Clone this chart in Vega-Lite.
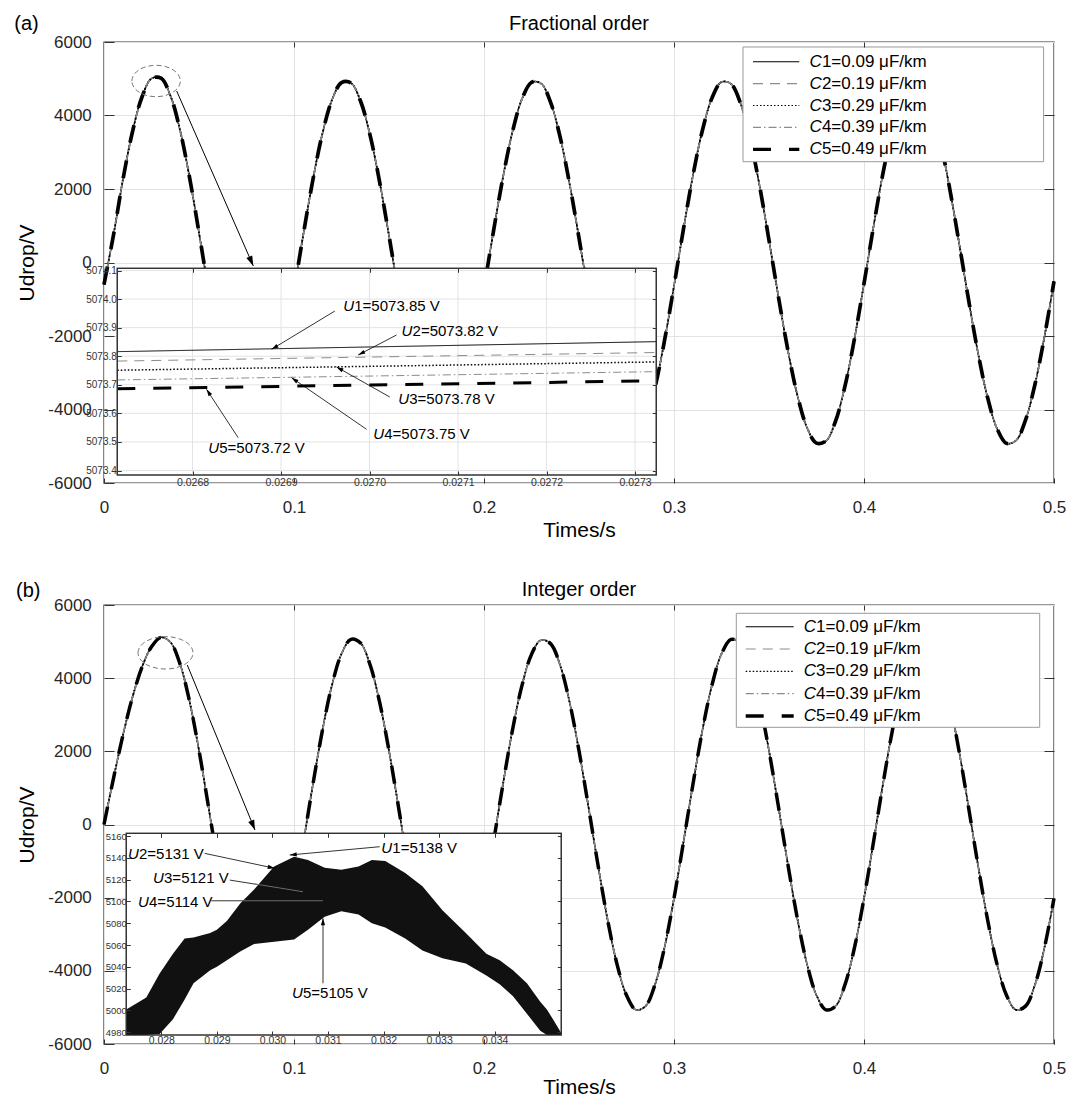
{
"$schema": "https://vega.github.io/schema/vega-lite/v6.json",
"padding": {"left": 13, "top": 13, "right": 5, "bottom": 0},
"config": {
 "font": "Liberation Sans",
 "view": {"stroke": "#333", "strokeWidth": 1.4},
 "axis": {"labelColor": "#262626", "tickColor": "#333", "titleColor": "#000", "titleFontWeight": "normal", "domain": false}
},
"datasets": {
 "waveA": [{"t":0,"v":-600},{"t":0.005,"v":748},{"t":0.01,"v":2265},{"t":0.015,"v":3559},{"t":0.02,"v":4504},{"t":0.025,"v":5006},{"t":0.03,"v":5016},{"t":0.035,"v":4533},{"t":0.04,"v":3605},{"t":0.045,"v":2321},{"t":0.05,"v":811},{"t":0.055,"v":-760},{"t":0.06,"v":-2238},{"t":0.065,"v":-3494},{"t":0.07,"v":-4408},{"t":0.075,"v":-4889},{"t":0.08,"v":-4889},{"t":0.085,"v":-4408},{"t":0.09,"v":-3494},{"t":0.095,"v":-2237},{"t":0.1,"v":-760},{"t":0.105,"v":792},{"t":0.11,"v":2266},{"t":0.115,"v":3516},{"t":0.12,"v":4422},{"t":0.125,"v":4894},{"t":0.13,"v":4884},{"t":0.135,"v":4394},{"t":0.14,"v":3472},{"t":0.145,"v":2209},{"t":0.15,"v":730},{"t":0.155,"v":-822},{"t":0.16,"v":-2293},{"t":0.165,"v":-3538},{"t":0.17,"v":-4437},{"t":0.175,"v":-4898},{"t":0.18,"v":-4879},{"t":0.185,"v":-4380},{"t":0.19,"v":-3450},{"t":0.195,"v":-2181},{"t":0.2,"v":-699},{"t":0.205,"v":853},{"t":0.21,"v":2321},{"t":0.215,"v":3560},{"t":0.22,"v":4450},{"t":0.225,"v":4902},{"t":0.23,"v":4873},{"t":0.235,"v":4365},{"t":0.24,"v":3428},{"t":0.245,"v":2154},{"t":0.25,"v":668},{"t":0.255,"v":-884},{"t":0.26,"v":-2349},{"t":0.265,"v":-3582},{"t":0.27,"v":-4464},{"t":0.275,"v":-4907},{"t":0.28,"v":-4868},{"t":0.285,"v":-4350},{"t":0.29,"v":-3406},{"t":0.295,"v":-2126},{"t":0.3,"v":-638},{"t":0.305,"v":914},{"t":0.31,"v":2376},{"t":0.315,"v":3604},{"t":0.32,"v":4477},{"t":0.325,"v":4911},{"t":0.33,"v":4862},{"t":0.335,"v":4335},{"t":0.34,"v":3384},{"t":0.345,"v":2097},{"t":0.35,"v":607},{"t":0.355,"v":-944},{"t":0.36,"v":-2403},{"t":0.365,"v":-3625},{"t":0.37,"v":-4490},{"t":0.375,"v":-4914},{"t":0.38,"v":-4856},{"t":0.385,"v":-4320},{"t":0.39,"v":-3361},{"t":0.395,"v":-2069},{"t":0.4,"v":-576},{"t":0.405,"v":975},{"t":0.41,"v":2430},{"t":0.415,"v":3645},{"t":0.42,"v":4503},{"t":0.425,"v":4918},{"t":0.43,"v":4850},{"t":0.435,"v":4305},{"t":0.44,"v":3338},{"t":0.445,"v":2041},{"t":0.45,"v":545},{"t":0.455,"v":-1005},{"t":0.46,"v":-2457},{"t":0.465,"v":-3667},{"t":0.47,"v":-4516},{"t":0.475,"v":-4922},{"t":0.48,"v":-4844},{"t":0.485,"v":-4289},{"t":0.49,"v":-3312},{"t":0.495,"v":-2012},{"t":0.5,"v":-514}],
 "waveB": [{"t":0,"v":0},{"t":0.005,"v":1262},{"t":0.01,"v":2447},{"t":0.015,"v":3482},{"t":0.02,"v":4302},{"t":0.025,"v":4858},{"t":0.03,"v":5116},{"t":0.035,"v":4980},{"t":0.04,"v":4390},{"t":0.045,"v":3373},{"t":0.05,"v":2025},{"t":0.055,"v":480},{"t":0.06,"v":-1110},{"t":0.065,"v":-2586},{"t":0.07,"v":-3811},{"t":0.075,"v":-4662},{"t":0.08,"v":-5058},{"t":0.085,"v":-4958},{"t":0.09,"v":-4372},{"t":0.095,"v":-3359},{"t":0.1,"v":-2017},{"t":0.105,"v":-478},{"t":0.11,"v":1108},{"t":0.115,"v":2586},{"t":0.12,"v":3812},{"t":0.125,"v":4665},{"t":0.13,"v":5062},{"t":0.135,"v":4960},{"t":0.14,"v":4372},{"t":0.145,"v":3359},{"t":0.15,"v":2017},{"t":0.155,"v":478},{"t":0.16,"v":-1108},{"t":0.165,"v":-2586},{"t":0.17,"v":-3810},{"t":0.175,"v":-4662},{"t":0.18,"v":-5058},{"t":0.185,"v":-4958},{"t":0.19,"v":-4372},{"t":0.195,"v":-3359},{"t":0.2,"v":-2017},{"t":0.205,"v":-478},{"t":0.21,"v":1106},{"t":0.215,"v":2582},{"t":0.22,"v":3802},{"t":0.225,"v":4650},{"t":0.23,"v":5040},{"t":0.235,"v":4945},{"t":0.24,"v":4365},{"t":0.245,"v":3355},{"t":0.25,"v":2015},{"t":0.255,"v":478},{"t":0.26,"v":-1108},{"t":0.265,"v":-2590},{"t":0.27,"v":-3815},{"t":0.275,"v":-4668},{"t":0.28,"v":-5066},{"t":0.285,"v":-4965},{"t":0.29,"v":-4376},{"t":0.295,"v":-3362},{"t":0.3,"v":-2018},{"t":0.305,"v":-478},{"t":0.31,"v":1108},{"t":0.315,"v":2588},{"t":0.32,"v":3812},{"t":0.325,"v":4664},{"t":0.33,"v":5060},{"t":0.335,"v":4960},{"t":0.34,"v":4373},{"t":0.345,"v":3360},{"t":0.35,"v":2017},{"t":0.355,"v":478},{"t":0.36,"v":-1109},{"t":0.365,"v":-2590},{"t":0.37,"v":-3815},{"t":0.375,"v":-4668},{"t":0.38,"v":-5066},{"t":0.385,"v":-4965},{"t":0.39,"v":-4376},{"t":0.395,"v":-3362},{"t":0.4,"v":-2018},{"t":0.405,"v":-478},{"t":0.41,"v":1108},{"t":0.415,"v":2588},{"t":0.42,"v":3812},{"t":0.425,"v":4664},{"t":0.43,"v":5060},{"t":0.435,"v":4960},{"t":0.44,"v":4373},{"t":0.445,"v":3360},{"t":0.45,"v":2017},{"t":0.455,"v":478},{"t":0.46,"v":-1109},{"t":0.465,"v":-2590},{"t":0.47,"v":-3815},{"t":0.475,"v":-4668},{"t":0.48,"v":-5066},{"t":0.485,"v":-4965},{"t":0.49,"v":-4376},{"t":0.495,"v":-3362},{"t":0.5,"v":-2018}],
 "legendRows": [{"s": "C1=0.09 μF/km", "rest": "1=0.09 μF/km"}, {"s": "C2=0.19 μF/km", "rest": "2=0.19 μF/km"}, {"s": "C3=0.29 μF/km", "rest": "3=0.29 μF/km"}, {"s": "C4=0.39 μF/km", "rest": "4=0.39 μF/km"}, {"s": "C5=0.49 μF/km", "rest": "5=0.49 μF/km"}]
},
"spacing": 37,
"resolve": {"scale": {"color": "independent", "strokeDash": "independent"}},
"vconcat": [
{
 "width": 950, "height": 441,
 "resolve": {"scale": {"x": "independent", "y": "independent"}},
 "layer": [
  {"layer": [
   {"data": {"name": "waveA"}, "mark": {"type": "line", "interpolate": "catmull-rom", "strokeWidth": 1.5},
    "encoding": {
     "x": {"field": "t", "type": "quantitative", "scale": {"domain": [0, 0.5], "nice": false, "zero": false},
       "axis": {"orient": "bottom", "title": "Times/s", "values": [0, 0.1, 0.2, 0.3, 0.4, 0.5], "labelExpr": "'' + datum.value", "grid": true, "gridColor": "#e3e3e3", "tickSize": -5, "labelPadding": 21.5, "labelFontSize": 17, "labelFlush": false, "titleFontSize": 21, "titlePadding": 4}},
     "y": {"field": "v", "type": "quantitative", "scale": {"domain": [-6000, 6000], "nice": false, "zero": false},
       "axis": {"orient": "left", "title": "Udrop/V", "values": [-6000, -4000, -2000, 0, 2000, 4000, 6000], "labelExpr": "'' + datum.value", "grid": true, "gridColor": "#e3e3e3", "tickSize": -10, "labelPadding": 22.7, "labelFontSize": 17, "labelFlush": false, "titleFontSize": 21, "titlePadding": 10}},
     "color": {"datum": "C1=0.09 μF/km", "type": "nominal", "legend": null,
       "scale": {"domain": ["C1=0.09 μF/km", "C2=0.19 μF/km", "C3=0.29 μF/km", "C4=0.39 μF/km", "C5=0.49 μF/km"], "range": ["#000000", "#8c8c8c", "#000000", "#8c8c8c", "#000000"]}},
     "strokeDash": {"datum": "C1=0.09 μF/km", "type": "nominal", "legend": null,
       "scale": {"domain": ["C1=0.09 μF/km", "C2=0.19 μF/km", "C3=0.29 μF/km", "C4=0.39 μF/km", "C5=0.49 μF/km"], "range": [[1, 0], [10, 7], [1.5, 2], [8, 3, 1.5, 3], [18, 18]]}}
    }},
   {"data": {"name": "waveA"}, "mark": {"type": "line", "interpolate": "catmull-rom", "strokeWidth": 1.3},
    "encoding": {"x": {"field": "t", "type": "quantitative", "scale": {"domain": [0, 0.5], "nice": false, "zero": false}}, "y": {"field": "v", "type": "quantitative", "scale": {"domain": [-6000, 6000], "nice": false, "zero": false}},
     "color": {"datum": "C2=0.19 μF/km", "type": "nominal"}, "strokeDash": {"datum": "C2=0.19 μF/km", "type": "nominal"}}},
   {"data": {"name": "waveA"}, "mark": {"type": "line", "interpolate": "catmull-rom", "strokeWidth": 1.8},
    "encoding": {"x": {"field": "t", "type": "quantitative", "scale": {"domain": [0, 0.5], "nice": false, "zero": false}}, "y": {"field": "v", "type": "quantitative", "scale": {"domain": [-6000, 6000], "nice": false, "zero": false}},
     "color": {"datum": "C3=0.29 μF/km", "type": "nominal"}, "strokeDash": {"datum": "C3=0.29 μF/km", "type": "nominal"}}},
   {"data": {"name": "waveA"}, "mark": {"type": "line", "interpolate": "catmull-rom", "strokeWidth": 1.3},
    "encoding": {"x": {"field": "t", "type": "quantitative", "scale": {"domain": [0, 0.5], "nice": false, "zero": false}}, "y": {"field": "v", "type": "quantitative", "scale": {"domain": [-6000, 6000], "nice": false, "zero": false}},
     "color": {"datum": "C4=0.39 μF/km", "type": "nominal"}, "strokeDash": {"datum": "C4=0.39 μF/km", "type": "nominal"}}},
   {"data": {"name": "waveA"}, "mark": {"type": "line", "interpolate": "catmull-rom", "strokeWidth": 3.7},
    "encoding": {"x": {"field": "t", "type": "quantitative", "scale": {"domain": [0, 0.5], "nice": false, "zero": false}}, "y": {"field": "v", "type": "quantitative", "scale": {"domain": [-6000, 6000], "nice": false, "zero": false}},
     "color": {"datum": "C5=0.49 μF/km", "type": "nominal"}, "strokeDash": {"datum": "C5=0.49 μF/km", "type": "nominal"}}},
   {"data": {"values": [{}]},
    "mark": {"type": "rect", "fill": "#fff", "stroke": "#9a9a9a", "strokeWidth": 1},
    "encoding": {"x": {"datum": 0.33632, "type": "quantitative", "scale": {"domain": [0, 0.5], "nice": false, "zero": false}}, "x2": {"datum": 0.49453},
     "y": {"datum": 5864, "type": "quantitative", "scale": {"domain": [-6000, 6000], "nice": false, "zero": false}}, "y2": {"datum": 2743}}},
   {"data": {"values": [{"t": 0.02742, "v": 4939}]},
    "mark": {"type": "point", "shape": "M-1,0C-1,-0.358,-0.552,-0.649,0,-0.649C0.552,-0.649,1,-0.358,1,0C1,0.358,0.552,0.649,0,0.649C-0.552,0.649,-1,0.358,-1,0Z", "size": 2343, "filled": false, "color": "#777", "strokeWidth": 1, "strokeDash": [5, 3], "opacity": 1},
    "encoding": {"x": {"field": "t", "type": "quantitative", "scale": {"domain": [0, 0.5], "nice": false, "zero": false}}, "y": {"field": "v", "type": "quantitative", "scale": {"domain": [-6000, 6000], "nice": false, "zero": false}}}},
   {"data": {"values": [{"t": 0.03826, "v": 4667, "t2": 0.07858, "v2": -95}]},
    "mark": {"type": "rule", "color": "#000", "strokeWidth": 1},
    "encoding": {"x": {"field": "t", "type": "quantitative", "scale": {"domain": [0, 0.5], "nice": false, "zero": false}}, "y": {"field": "v", "type": "quantitative", "scale": {"domain": [-6000, 6000], "nice": false, "zero": false}}, "x2": {"field": "t2"}, "y2": {"field": "v2"}}},
   {"data": {"values": [{"t": 0.07858, "v": -95, "ang": 156.4}]},
    "mark": {"type": "point", "shape": "M0,0L-0.32,1L0.32,1Z", "size": 400, "filled": true, "color": "#000", "opacity": 1},
    "encoding": {"x": {"field": "t", "type": "quantitative", "scale": {"domain": [0, 0.5], "nice": false, "zero": false}}, "y": {"field": "v", "type": "quantitative", "scale": {"domain": [-6000, 6000], "nice": false, "zero": false}}, "angle": {"field": "ang", "type": "quantitative", "scale": null}}},
   {"data": {"values": [{"t": -0.0472, "v": 6490, "label": "(a)"}]},
    "mark": {"type": "text", "align": "left", "baseline": "middle", "fontSize": 20, "color": "#000"},
    "encoding": {"x": {"field": "t", "type": "quantitative", "scale": {"domain": [0, 0.5], "nice": false, "zero": false}}, "y": {"field": "v", "type": "quantitative", "scale": {"domain": [-6000, 6000], "nice": false, "zero": false}}, "text": {"field": "label"}}},
   {"data": {"values": [{"t": 0.25, "v": 6490, "label": "Fractional order"}]},
    "mark": {"type": "text", "align": "center", "baseline": "middle", "fontSize": 20, "color": "#000"},
    "encoding": {"x": {"field": "t", "type": "quantitative", "scale": {"domain": [0, 0.5], "nice": false, "zero": false}}, "y": {"field": "v", "type": "quantitative", "scale": {"domain": [-6000, 6000], "nice": false, "zero": false}}, "text": {"field": "label"}}}
  ]},
  {"layer": [
   {"data": {"values": [{}]},
    "mark": {"type": "rect", "fill": "#fff", "stroke": "#333", "strokeWidth": 1.2},
    "encoding": {
     "x": {"datum": 0.026715, "type": "quantitative", "scale": {"domain": [0.026715, 0.027324], "range": [13.3, 552.3], "nice": false, "zero": false},
       "axis": {"orient": "bottom", "offset": -8, "title": null, "values": [0.0268, 0.0269, 0.027, 0.0271, 0.0272, 0.0273], "format": ".4f", "grid": false, "domain": false, "tickSize": -4, "labelPadding": 6.5, "labelFontSize": 10.5, "labelColor": "#333", "labelFlush": false, "labelOverlap": false, "zindex": 2}},
     "x2": {"datum": 0.027324},
     "y": {"datum": 5073.3843, "type": "quantitative", "scale": {"domain": [5073.3843, 5074.1077], "range": [433, 226.3], "nice": false, "zero": false},
       "axis": {"orient": "left", "offset": -13.3, "title": null, "values": [5073.4, 5073.5, 5073.6, 5073.7, 5073.8, 5073.9, 5074, 5074.1], "format": ".1f", "grid": false, "domain": false, "tickSize": -4, "labelPadding": 5, "labelFontSize": 10, "labelColor": "#333", "labelFlush": false, "labelOverlap": false, "zindex": 2}},
     "y2": {"datum": 5074.1077}}},
   {"data": {"values": [{"g": 0.0268}, {"g": 0.0269}, {"g": 0.027}, {"g": 0.0271}, {"g": 0.0272}, {"g": 0.0273}]},
    "mark": {"type": "rule", "color": "#e3e3e3", "strokeWidth": 1},
    "encoding": {"x": {"field": "g", "type": "quantitative", "scale": {"domain": [0.026715, 0.027324], "range": [13.3, 552.3], "nice": false, "zero": false}},
     "y": {"datum": 5073.3843, "type": "quantitative", "scale": {"domain": [5073.3843, 5074.1077], "range": [433, 226.3], "nice": false, "zero": false}}, "y2": {"datum": 5074.1077}}},
   {"data": {"values": [{"g": 5073.4}, {"g": 5073.5}, {"g": 5073.6}, {"g": 5073.7}, {"g": 5073.8}, {"g": 5073.9}, {"g": 5074.0}, {"g": 5074.1}]},
    "mark": {"type": "rule", "color": "#e3e3e3", "strokeWidth": 1},
    "encoding": {"y": {"field": "g", "type": "quantitative", "scale": {"domain": [5073.3843, 5074.1077], "range": [433, 226.3], "nice": false, "zero": false}},
     "x": {"datum": 0.026715, "type": "quantitative", "scale": {"domain": [0.026715, 0.027324], "range": [13.3, 552.3], "nice": false, "zero": false}}, "x2": {"datum": 0.027324}}},
   {"data": {"values": [{"t": 0.026715, "v": 5073.816}, {"t": 0.027324, "v": 5073.851}]},
    "mark": {"type": "line", "strokeWidth": 1},
    "encoding": {"x": {"field": "t", "type": "quantitative", "scale": {"domain": [0.026715, 0.027324], "range": [13.3, 552.3], "nice": false, "zero": false}}, "y": {"field": "v", "type": "quantitative", "scale": {"domain": [5073.3843, 5074.1077], "range": [433, 226.3], "nice": false, "zero": false}},
     "color": {"datum": "C1=0.09 μF/km", "type": "nominal"}, "strokeDash": {"datum": "C1=0.09 μF/km", "type": "nominal"}}},
   {"data": {"values": [{"t": 0.026715, "v": 5073.783}, {"t": 0.027324, "v": 5073.813}]},
    "mark": {"type": "line", "strokeWidth": 1},
    "encoding": {"x": {"field": "t", "type": "quantitative", "scale": {"domain": [0.026715, 0.027324], "range": [13.3, 552.3], "nice": false, "zero": false}}, "y": {"field": "v", "type": "quantitative", "scale": {"domain": [5073.3843, 5074.1077], "range": [433, 226.3], "nice": false, "zero": false}},
     "color": {"datum": "C2=0.19 μF/km", "type": "nominal"}, "strokeDash": {"datum": "C2=0.19 μF/km", "type": "nominal"}}},
   {"data": {"values": [{"t": 0.026715, "v": 5073.751}, {"t": 0.027324, "v": 5073.780}]},
    "mark": {"type": "line", "strokeWidth": 1.5},
    "encoding": {"x": {"field": "t", "type": "quantitative", "scale": {"domain": [0.026715, 0.027324], "range": [13.3, 552.3], "nice": false, "zero": false}}, "y": {"field": "v", "type": "quantitative", "scale": {"domain": [5073.3843, 5074.1077], "range": [433, 226.3], "nice": false, "zero": false}},
     "color": {"datum": "C3=0.29 μF/km", "type": "nominal"}, "strokeDash": {"datum": "C3=0.29 μF/km", "type": "nominal"}}},
   {"data": {"values": [{"t": 0.026715, "v": 5073.717}, {"t": 0.027324, "v": 5073.746}]},
    "mark": {"type": "line", "strokeWidth": 1},
    "encoding": {"x": {"field": "t", "type": "quantitative", "scale": {"domain": [0.026715, 0.027324], "range": [13.3, 552.3], "nice": false, "zero": false}}, "y": {"field": "v", "type": "quantitative", "scale": {"domain": [5073.3843, 5074.1077], "range": [433, 226.3], "nice": false, "zero": false}},
     "color": {"datum": "C4=0.39 μF/km", "type": "nominal"}, "strokeDash": {"datum": "C4=0.39 μF/km", "type": "nominal"}}},
   {"data": {"values": [{"t": 0.026715, "v": 5073.686}, {"t": 0.027324, "v": 5073.714}]},
    "mark": {"type": "line", "strokeWidth": 3},
    "encoding": {"x": {"field": "t", "type": "quantitative", "scale": {"domain": [0.026715, 0.027324], "range": [13.3, 552.3], "nice": false, "zero": false}}, "y": {"field": "v", "type": "quantitative", "scale": {"domain": [5073.3843, 5074.1077], "range": [433, 226.3], "nice": false, "zero": false}},
     "color": {"datum": "C5=0.49 μF/km", "type": "nominal"}, "strokeDash": {"datum": "C5=0.49 μF/km", "type": "nominal"}}},
   {"data": {"values": [
     {"t": 0.0269608, "v": 5073.9582, "t2": 0.0268893, "v2": 5073.8242},
     {"t": 0.0270305, "v": 5073.8743, "t2": 0.0269872, "v2": 5073.8043},
     {"t": 0.0270229, "v": 5073.6573, "t2": 0.0269627, "v2": 5073.7623},
     {"t": 0.0269966, "v": 5073.5442, "t2": 0.0269119, "v2": 5073.7248},
     {"t": 0.0268516, "v": 5073.5148, "t2": 0.0268158, "v2": 5073.6842}]},
    "mark": {"type": "rule", "color": "#000", "strokeWidth": 0.8},
    "encoding": {"x": {"field": "t", "type": "quantitative", "scale": {"domain": [0.026715, 0.027324], "range": [13.3, 552.3], "nice": false, "zero": false}}, "y": {"field": "v", "type": "quantitative", "scale": {"domain": [5073.3843, 5074.1077], "range": [433, 226.3], "nice": false, "zero": false}}, "x2": {"field": "t2"}, "y2": {"field": "v2"}}},
   {"data": {"values": [
     {"t": 0.0268893, "v": 5073.8242, "ang": 238.8},
     {"t": 0.0269872, "v": 5073.8043, "ang": 242.4},
     {"t": 0.0269627, "v": 5073.7623, "ang": 299.4},
     {"t": 0.0269119, "v": 5073.7248, "ang": 304.5},
     {"t": 0.0268158, "v": 5073.6842, "ang": 326.8}]},
    "mark": {"type": "point", "shape": "M0,0L-0.3,1L0.3,1Z", "size": 196, "filled": true, "color": "#000", "opacity": 1},
    "encoding": {"x": {"field": "t", "type": "quantitative", "scale": {"domain": [0.026715, 0.027324], "range": [13.3, 552.3], "nice": false, "zero": false}}, "y": {"field": "v", "type": "quantitative", "scale": {"domain": [5073.3843, 5074.1077], "range": [433, 226.3], "nice": false, "zero": false}}, "angle": {"field": "ang", "type": "quantitative", "scale": null}}},
   {"data": {"values": [
     {"t": 0.0269703, "v": 5073.9758, "rest": "1=5073.85 V"},
     {"t": 0.0270362, "v": 5073.8882, "rest": "2=5073.82 V"},
     {"t": 0.0270324, "v": 5073.6492, "rest": "3=5073.78 V"},
     {"t": 0.0270042, "v": 5073.5288, "rest": "4=5073.75 V"},
     {"t": 0.0268177, "v": 5073.4798, "rest": "5=5073.72 V"}]},
    "layer": [
     {"mark": {"type": "text", "text": "U", "fontStyle": "italic", "align": "left", "baseline": "middle", "fontSize": 15, "color": "#000"},
      "encoding": {"x": {"field": "t", "type": "quantitative", "scale": {"domain": [0.026715, 0.027324], "range": [13.3, 552.3], "nice": false, "zero": false}}, "y": {"field": "v", "type": "quantitative", "scale": {"domain": [5073.3843, 5074.1077], "range": [433, 226.3], "nice": false, "zero": false}}}},
     {"mark": {"type": "text", "align": "left", "baseline": "middle", "fontSize": 15, "dx": 11, "color": "#000"},
      "encoding": {"x": {"field": "t", "type": "quantitative", "scale": {"domain": [0.026715, 0.027324], "range": [13.3, 552.3], "nice": false, "zero": false}}, "y": {"field": "v", "type": "quantitative", "scale": {"domain": [5073.3843, 5074.1077], "range": [433, 226.3], "nice": false, "zero": false}}, "text": {"field": "rest"}}}
    ]},
   {"data": {"values": [{}]},
    "mark": {"type": "rect", "filled": false, "color": "#333", "strokeWidth": 1.2},
    "encoding": {"x": {"datum": 0.026715, "type": "quantitative", "scale": {"domain": [0.026715, 0.027324], "range": [13.3, 552.3], "nice": false, "zero": false}}, "x2": {"datum": 0.027324},
     "y": {"datum": 5073.3843, "type": "quantitative", "scale": {"domain": [5073.3843, 5074.1077], "range": [433, 226.3], "nice": false, "zero": false}}, "y2": {"datum": 5074.1077}}}
  ]},
  {"data": {"name": "legendRows"},
   "layer": [
    {"transform": [{"filter": "datum.s !== 'C5=0.49 μF/km'"}],
     "mark": {"type": "rule", "strokeWidth": 1.1},
     "encoding": {"x": {"datum": 0.34158, "type": "quantitative", "scale": {"domain": [0, 0.5], "nice": false, "zero": false},
        "axis": {"orient": "top", "values": [0.1, 0.2, 0.3, 0.4], "labels": false, "grid": false, "domain": false, "tickSize": -5, "title": null, "zindex": 1}},
      "x2": {"datum": 0.36595},
      "y": {"field": "s", "type": "nominal", "scale": {"type": "point", "domain": ["C1=0.09 μF/km", "C2=0.19 μF/km", "C3=0.29 μF/km", "C4=0.39 μF/km", "C5=0.49 μF/km"], "range": [19.7, 107.3], "padding": 0}, "axis": null},
      "color": {"field": "s", "type": "nominal"}, "strokeDash": {"field": "s", "type": "nominal"}}},
    {"transform": [{"filter": "datum.s === 'C5=0.49 μF/km'"}],
     "mark": {"type": "rule", "strokeWidth": 3.3},
     "encoding": {"x": {"datum": 0.34158, "type": "quantitative", "scale": {"domain": [0, 0.5], "nice": false, "zero": false}}, "x2": {"datum": 0.36595},
      "y": {"field": "s", "type": "nominal", "scale": {"type": "point", "domain": ["C1=0.09 μF/km", "C2=0.19 μF/km", "C3=0.29 μF/km", "C4=0.39 μF/km", "C5=0.49 μF/km"], "range": [19.7, 107.3], "padding": 0}},
      "color": {"field": "s", "type": "nominal"}, "strokeDash": {"field": "s", "type": "nominal"}}},
    {"mark": {"type": "text", "text": "C", "fontStyle": "italic", "align": "left", "baseline": "middle", "fontSize": 17, "color": "#000"},
     "encoding": {"x": {"datum": 0.37137, "type": "quantitative", "scale": {"domain": [0, 0.5], "nice": false, "zero": false}},
      "y": {"field": "s", "type": "nominal", "scale": {"type": "point", "domain": ["C1=0.09 μF/km", "C2=0.19 μF/km", "C3=0.29 μF/km", "C4=0.39 μF/km", "C5=0.49 μF/km"], "range": [19.7, 107.3], "padding": 0}}}},
    {"mark": {"type": "text", "align": "left", "baseline": "middle", "fontSize": 17, "dx": 12.3, "color": "#000"},
     "encoding": {"x": {"datum": 0.37137, "type": "quantitative", "scale": {"domain": [0, 0.5], "nice": false, "zero": false}},
      "y": {"field": "s", "type": "nominal", "scale": {"type": "point", "domain": ["C1=0.09 μF/km", "C2=0.19 μF/km", "C3=0.29 μF/km", "C4=0.39 μF/km", "C5=0.49 μF/km"], "range": [19.7, 107.3], "padding": 0}},
      "text": {"field": "rest"}}}
   ]},
  {"data": {"values": [{}]},
   "mark": {"type": "point", "opacity": 0, "size": 1},
   "encoding": {
    "x": {"datum": 0.0268, "type": "quantitative", "scale": {"domain": [0.026715, 0.027324], "range": [13.3, 552.3], "nice": false, "zero": false},
      "axis": {"orient": "top", "offset": -226.3, "values": [0.0268, 0.0269, 0.027, 0.0271, 0.0272, 0.0273], "labels": false, "grid": false, "domain": false, "tickSize": -4, "title": null, "zindex": 2}},
    "y": {"datum": 5073.4, "type": "quantitative", "scale": {"domain": [5073.3843, 5074.1077], "range": [433, 226.3], "nice": false, "zero": false},
      "axis": {"orient": "right", "offset": -397.7, "values": [5073.4, 5073.5, 5073.6, 5073.7, 5073.8, 5073.9, 5074, 5074.1], "labels": false, "grid": false, "domain": false, "tickSize": -4, "title": null, "zindex": 2}}}},
  {"data": {"values": [{}]},
   "mark": {"type": "point", "opacity": 0, "size": 1},
   "encoding": {
    "x": {"datum": 0.5, "type": "quantitative", "scale": {"domain": [0.4, 0.5], "range": [850, 950], "nice": false, "zero": false}, "axis": null},
    "y": {"datum": 0, "type": "quantitative", "scale": {"domain": [-6000, 6000], "nice": false, "zero": false},
      "axis": {"orient": "right", "values": [-4000, -2000, 0, 2000, 4000], "labels": false, "grid": false, "domain": false, "tickSize": -10, "title": null, "zindex": 1}}}}
 ]
},
{
 "width": 950, "height": 439,
 "resolve": {"scale": {"x": "independent", "y": "independent"}},
 "layer": [
  {"layer": [
   {"data": {"name": "waveB"}, "mark": {"type": "line", "interpolate": "catmull-rom", "strokeWidth": 1.5},
    "encoding": {
     "x": {"field": "t", "type": "quantitative", "scale": {"domain": [0, 0.5], "nice": false, "zero": false},
       "axis": {"orient": "bottom", "title": "Times/s", "values": [0, 0.1, 0.2, 0.3, 0.4, 0.5], "labelExpr": "'' + datum.value", "grid": true, "gridColor": "#e3e3e3", "tickSize": -5, "labelPadding": 21.5, "labelFontSize": 17, "labelFlush": false, "titleFontSize": 21, "titlePadding": 0}},
     "y": {"field": "v", "type": "quantitative", "scale": {"domain": [-6000, 6000], "nice": false, "zero": false},
       "axis": {"orient": "left", "title": "Udrop/V", "values": [-6000, -4000, -2000, 0, 2000, 4000, 6000], "labelExpr": "'' + datum.value", "grid": true, "gridColor": "#e3e3e3", "tickSize": -10, "labelPadding": 22.7, "labelFontSize": 17, "labelFlush": false, "titleFontSize": 21, "titlePadding": 10}},
     "color": {"datum": "C1=0.09 μF/km", "type": "nominal", "legend": null,
       "scale": {"domain": ["C1=0.09 μF/km", "C2=0.19 μF/km", "C3=0.29 μF/km", "C4=0.39 μF/km", "C5=0.49 μF/km"], "range": ["#000000", "#8c8c8c", "#000000", "#8c8c8c", "#000000"]}},
     "strokeDash": {"datum": "C1=0.09 μF/km", "type": "nominal", "legend": null,
       "scale": {"domain": ["C1=0.09 μF/km", "C2=0.19 μF/km", "C3=0.29 μF/km", "C4=0.39 μF/km", "C5=0.49 μF/km"], "range": [[1, 0], [10, 7], [1.5, 2], [8, 3, 1.5, 3], [18, 18]]}}
    }},
   {"data": {"name": "waveB"}, "mark": {"type": "line", "interpolate": "catmull-rom", "strokeWidth": 1.3},
    "encoding": {"x": {"field": "t", "type": "quantitative", "scale": {"domain": [0, 0.5], "nice": false, "zero": false}}, "y": {"field": "v", "type": "quantitative", "scale": {"domain": [-6000, 6000], "nice": false, "zero": false}},
     "color": {"datum": "C2=0.19 μF/km", "type": "nominal"}, "strokeDash": {"datum": "C2=0.19 μF/km", "type": "nominal"}}},
   {"data": {"name": "waveB"}, "mark": {"type": "line", "interpolate": "catmull-rom", "strokeWidth": 1.8},
    "encoding": {"x": {"field": "t", "type": "quantitative", "scale": {"domain": [0, 0.5], "nice": false, "zero": false}}, "y": {"field": "v", "type": "quantitative", "scale": {"domain": [-6000, 6000], "nice": false, "zero": false}},
     "color": {"datum": "C3=0.29 μF/km", "type": "nominal"}, "strokeDash": {"datum": "C3=0.29 μF/km", "type": "nominal"}}},
   {"data": {"name": "waveB"}, "mark": {"type": "line", "interpolate": "catmull-rom", "strokeWidth": 1.3},
    "encoding": {"x": {"field": "t", "type": "quantitative", "scale": {"domain": [0, 0.5], "nice": false, "zero": false}}, "y": {"field": "v", "type": "quantitative", "scale": {"domain": [-6000, 6000], "nice": false, "zero": false}},
     "color": {"datum": "C4=0.39 μF/km", "type": "nominal"}, "strokeDash": {"datum": "C4=0.39 μF/km", "type": "nominal"}}},
   {"data": {"name": "waveB"}, "mark": {"type": "line", "interpolate": "catmull-rom", "strokeWidth": 3.5},
    "encoding": {"x": {"field": "t", "type": "quantitative", "scale": {"domain": [0, 0.5], "nice": false, "zero": false}}, "y": {"field": "v", "type": "quantitative", "scale": {"domain": [-6000, 6000], "nice": false, "zero": false}},
     "color": {"datum": "C5=0.49 μF/km", "type": "nominal"}, "strokeDash": {"datum": "C5=0.49 μF/km", "type": "nominal"}}},
   {"data": {"values": [{}]},
    "mark": {"type": "rect", "fill": "#fff", "stroke": "#9a9a9a", "strokeWidth": 1},
    "encoding": {"x": {"datum": 0.33279, "type": "quantitative", "scale": {"domain": [0, 0.5], "nice": false, "zero": false}}, "x2": {"datum": 0.49247},
     "y": {"datum": 5773, "type": "quantitative", "scale": {"domain": [-6000, 6000], "nice": false, "zero": false}}, "y2": {"datum": 2657}}},
   {"data": {"values": [{"t": 0.03237, "v": 4693}]},
    "mark": {"type": "point", "shape": "M-1,0C-1,-0.326,-0.552,-0.59,0,-0.59C0.552,-0.59,1,-0.326,1,0C1,0.326,0.552,0.59,0,0.59C-0.552,0.59,-1,0.326,-1,0Z", "size": 3025, "filled": false, "color": "#777", "strokeWidth": 1, "strokeDash": [5, 3], "opacity": 1},
    "encoding": {"x": {"field": "t", "type": "quantitative", "scale": {"domain": [0, 0.5], "nice": false, "zero": false}}, "y": {"field": "v", "type": "quantitative", "scale": {"domain": [-6000, 6000], "nice": false, "zero": false}}}},
   {"data": {"values": [{"t": 0.04384, "v": 4360, "t2": 0.07947, "v2": -151}]},
    "mark": {"type": "rule", "color": "#000", "strokeWidth": 1},
    "encoding": {"x": {"field": "t", "type": "quantitative", "scale": {"domain": [0, 0.5], "nice": false, "zero": false}}, "y": {"field": "v", "type": "quantitative", "scale": {"domain": [-6000, 6000], "nice": false, "zero": false}}, "x2": {"field": "t2"}, "y2": {"field": "v2"}}},
   {"data": {"values": [{"t": 0.07947, "v": -151, "ang": 157.7}]},
    "mark": {"type": "point", "shape": "M0,0L-0.32,1L0.32,1Z", "size": 400, "filled": true, "color": "#000", "opacity": 1},
    "encoding": {"x": {"field": "t", "type": "quantitative", "scale": {"domain": [0, 0.5], "nice": false, "zero": false}}, "y": {"field": "v", "type": "quantitative", "scale": {"domain": [-6000, 6000], "nice": false, "zero": false}}, "angle": {"field": "ang", "type": "quantitative", "scale": null}}},
   {"data": {"values": [{"t": -0.0463, "v": 6383, "label": "(b)"}]},
    "mark": {"type": "text", "align": "left", "baseline": "middle", "fontSize": 20, "color": "#000"},
    "encoding": {"x": {"field": "t", "type": "quantitative", "scale": {"domain": [0, 0.5], "nice": false, "zero": false}}, "y": {"field": "v", "type": "quantitative", "scale": {"domain": [-6000, 6000], "nice": false, "zero": false}}, "text": {"field": "label"}}},
   {"data": {"values": [{"t": 0.25, "v": 6410, "label": "Integer order"}]},
    "mark": {"type": "text", "align": "center", "baseline": "middle", "fontSize": 20, "color": "#000"},
    "encoding": {"x": {"field": "t", "type": "quantitative", "scale": {"domain": [0, 0.5], "nice": false, "zero": false}}, "y": {"field": "v", "type": "quantitative", "scale": {"domain": [-6000, 6000], "nice": false, "zero": false}}, "text": {"field": "label"}}}
  ]},
  {"layer": [
   {"data": {"values": [{}]},
    "mark": {"type": "rect", "fill": "#fff", "stroke": "#333", "strokeWidth": 1.2},
    "encoding": {
     "x": {"datum": 0.02737, "type": "quantitative", "scale": {"domain": [0.02737, 0.035199], "range": [22.3, 457.3], "nice": false, "zero": false},
       "axis": {"orient": "bottom", "offset": -9, "title": null, "values": [0.028, 0.029, 0.03, 0.031, 0.032, 0.033, 0.034], "format": ".3f", "grid": false, "domain": false, "tickSize": -4, "labelPadding": 4.5, "labelFontSize": 10.5, "labelColor": "#333", "labelFlush": false, "labelOverlap": false, "zindex": 2}},
     "x2": {"datum": 0.035199},
     "y": {"datum": 4977.5, "type": "quantitative", "scale": {"domain": [4977.5, 5162.5], "range": [430, 228.3], "nice": false, "zero": false},
       "axis": {"orient": "left", "offset": -22.3, "title": null, "values": [4980, 5000, 5020, 5040, 5060, 5080, 5100, 5120, 5140, 5160], "format": "d", "grid": false, "domain": false, "tickSize": -4, "labelPadding": 4, "labelFontSize": 9.5, "labelColor": "#333", "labelFlush": false, "labelOverlap": false, "zindex": 2}},
     "y2": {"datum": 5162.5}}},
   {"data": {"values": [
     {"t":0.02737,"hi":5001,"lo":4977.5},{"t":0.02773,"hi":5012,"lo":4977.5},{"t":0.02797,"hi":5034,"lo":4978.5},{"t":0.02821,"hi":5052,"lo":4992},{"t":0.02842,"hi":5066,"lo":5010},{"t":0.02858,"hi":5067,"lo":5025},{"t":0.02888,"hi":5071,"lo":5037},{"t":0.029,"hi":5074,"lo":5040},{"t":0.02918,"hi":5082,"lo":5046},{"t":0.02942,"hi":5098,"lo":5054},{"t":0.02967,"hi":5111,"lo":5061},{"t":0.03003,"hi":5132,"lo":5063},{"t":0.03039,"hi":5141,"lo":5065},{"t":0.03064,"hi":5138,"lo":5074},{"t":0.03094,"hi":5131,"lo":5086},{"t":0.03124,"hi":5129,"lo":5091},{"t":0.03155,"hi":5132,"lo":5088},{"t":0.03179,"hi":5138,"lo":5080},{"t":0.03203,"hi":5137,"lo":5076},{"t":0.03239,"hi":5126,"lo":5066},{"t":0.0327,"hi":5114,"lo":5055},{"t":0.03306,"hi":5092,"lo":5048},{"t":0.03348,"hi":5071,"lo":5043},{"t":0.03385,"hi":5052,"lo":5032},{"t":0.03409,"hi":5046,"lo":5024},{"t":0.03433,"hi":5037,"lo":5013},{"t":0.03458,"hi":5025,"lo":4997},{"t":0.03482,"hi":5008,"lo":4981.5},{"t":0.03494,"hi":5001,"lo":4977.5},{"t":0.03506,"hi":4991,"lo":4977.5},{"t":0.0352,"hi":4979,"lo":4977.5}]},
    "mark": {"type": "area", "color": "#111", "opacity": 1},
    "encoding": {"x": {"field": "t", "type": "quantitative", "scale": {"domain": [0.02737, 0.035199], "range": [22.3, 457.3], "nice": false, "zero": false}}, "y": {"field": "hi", "type": "quantitative", "scale": {"domain": [4977.5, 5162.5], "range": [430, 228.3], "nice": false, "zero": false}}, "y2": {"field": "lo"}}},
   {"data": {"values": [
     {"t": 0.031931, "v": 5150.2, "t2": 0.030311, "v2": 5142.6},
     {"t": 0.028781, "v": 5144.1, "t2": 0.030041, "v2": 5130.4},
     {"t": 0.029231, "v": 5119.6, "t2": 0.030550, "v2": 5108.9},
     {"t": 0.0289, "v": 5100.6, "t2": 0.03091, "v2": 5100.6},
     {"t": 0.03091, "v": 5024.9, "t2": 0.03091, "v2": 5084.5}]},
    "mark": {"type": "rule", "color": "#000", "strokeWidth": 0.8},
    "encoding": {"x": {"field": "t", "type": "quantitative", "scale": {"domain": [0.02737, 0.035199], "range": [22.3, 457.3], "nice": false, "zero": false}}, "y": {"field": "v", "type": "quantitative", "scale": {"domain": [4977.5, 5162.5], "range": [430, 228.3], "nice": false, "zero": false}}, "x2": {"field": "t2"}, "y2": {"field": "v2"}}},
   {"data": {"values": [
     {"t": 0.02965, "v": 5116.3, "t2": 0.03055, "v2": 5108.9},
     {"t": 0.02947, "v": 5100.6, "t2": 0.03091, "v2": 5100.6}]},
    "mark": {"type": "rule", "color": "#8a8a8a", "strokeWidth": 0.8},
    "encoding": {"x": {"field": "t", "type": "quantitative", "scale": {"domain": [0.02737, 0.035199], "range": [22.3, 457.3], "nice": false, "zero": false}}, "y": {"field": "v", "type": "quantitative", "scale": {"domain": [4977.5, 5162.5], "range": [430, 228.3], "nice": false, "zero": false}}, "x2": {"field": "t2"}, "y2": {"field": "v2"}}},
   {"data": {"values": [
     {"t": 0.030311, "v": 5142.6, "ang": 264.7},
     {"t": 0.030041, "v": 5130.4, "ang": 102.1},
     {"t": 0.03091, "v": 5084.5, "ang": 0}]},
    "mark": {"type": "point", "shape": "M0,0L-0.3,1L0.3,1Z", "size": 196, "filled": true, "color": "#000", "opacity": 1},
    "encoding": {"x": {"field": "t", "type": "quantitative", "scale": {"domain": [0.02737, 0.035199], "range": [22.3, 457.3], "nice": false, "zero": false}}, "y": {"field": "v", "type": "quantitative", "scale": {"domain": [4977.5, 5162.5], "range": [430, 228.3], "nice": false, "zero": false}}, "angle": {"field": "ang", "type": "quantitative", "scale": null}}},
   {"data": {"values": [
     {"t": 0.03196, "v": 5148.7, "rest": "1=5138 V"},
     {"t": 0.027401, "v": 5143.5, "rest": "2=5131 V"},
     {"t": 0.027851, "v": 5121.2, "rest": "3=5121 V"},
     {"t": 0.027581, "v": 5099.7, "rest": "4=5114 V"},
     {"t": 0.030352, "v": 5015.7, "rest": "5=5105 V"}]},
    "layer": [
     {"mark": {"type": "text", "text": "U", "fontStyle": "italic", "align": "left", "baseline": "middle", "fontSize": 15, "color": "#000"},
      "encoding": {"x": {"field": "t", "type": "quantitative", "scale": {"domain": [0.02737, 0.035199], "range": [22.3, 457.3], "nice": false, "zero": false}}, "y": {"field": "v", "type": "quantitative", "scale": {"domain": [4977.5, 5162.5], "range": [430, 228.3], "nice": false, "zero": false}}}},
     {"mark": {"type": "text", "align": "left", "baseline": "middle", "fontSize": 15, "dx": 11, "color": "#000"},
      "encoding": {"x": {"field": "t", "type": "quantitative", "scale": {"domain": [0.02737, 0.035199], "range": [22.3, 457.3], "nice": false, "zero": false}}, "y": {"field": "v", "type": "quantitative", "scale": {"domain": [4977.5, 5162.5], "range": [430, 228.3], "nice": false, "zero": false}}, "text": {"field": "rest"}}}
    ]},
   {"data": {"values": [{}]},
    "mark": {"type": "rect", "filled": false, "color": "#333", "strokeWidth": 1.2},
    "encoding": {"x": {"datum": 0.02737, "type": "quantitative", "scale": {"domain": [0.02737, 0.035199], "range": [22.3, 457.3], "nice": false, "zero": false}}, "x2": {"datum": 0.035199},
     "y": {"datum": 4977.5, "type": "quantitative", "scale": {"domain": [4977.5, 5162.5], "range": [430, 228.3], "nice": false, "zero": false}}, "y2": {"datum": 5162.5}}}
  ]},
  {"data": {"name": "legendRows"},
   "layer": [
    {"transform": [{"filter": "datum.s !== 'C5=0.49 μF/km'"}],
     "mark": {"type": "rule", "strokeWidth": 1.1},
     "encoding": {"x": {"datum": 0.33774, "type": "quantitative", "scale": {"domain": [0, 0.5], "nice": false, "zero": false},
        "axis": {"orient": "top", "values": [0.1, 0.2, 0.3, 0.4], "labels": false, "grid": false, "domain": false, "tickSize": -5, "title": null, "zindex": 1}},
      "x2": {"datum": 0.363},
      "y": {"field": "s", "type": "nominal", "scale": {"type": "point", "domain": ["C1=0.09 μF/km", "C2=0.19 μF/km", "C3=0.29 μF/km", "C4=0.39 μF/km", "C5=0.49 μF/km"], "range": [21.7, 111], "padding": 0}, "axis": null},
      "color": {"field": "s", "type": "nominal"}, "strokeDash": {"field": "s", "type": "nominal"}}},
    {"transform": [{"filter": "datum.s === 'C5=0.49 μF/km'"}],
     "mark": {"type": "rule", "strokeWidth": 3.3},
     "encoding": {"x": {"datum": 0.33774, "type": "quantitative", "scale": {"domain": [0, 0.5], "nice": false, "zero": false}}, "x2": {"datum": 0.363},
      "y": {"field": "s", "type": "nominal", "scale": {"type": "point", "domain": ["C1=0.09 μF/km", "C2=0.19 μF/km", "C3=0.29 μF/km", "C4=0.39 μF/km", "C5=0.49 μF/km"], "range": [21.7, 111], "padding": 0}},
      "color": {"field": "s", "type": "nominal"}, "strokeDash": {"field": "s", "type": "nominal"}}},
    {"mark": {"type": "text", "text": "C", "fontStyle": "italic", "align": "left", "baseline": "middle", "fontSize": 17, "color": "#000"},
     "encoding": {"x": {"datum": 0.36826, "type": "quantitative", "scale": {"domain": [0, 0.5], "nice": false, "zero": false}},
      "y": {"field": "s", "type": "nominal", "scale": {"type": "point", "domain": ["C1=0.09 μF/km", "C2=0.19 μF/km", "C3=0.29 μF/km", "C4=0.39 μF/km", "C5=0.49 μF/km"], "range": [21.7, 111], "padding": 0}}}},
    {"mark": {"type": "text", "align": "left", "baseline": "middle", "fontSize": 17, "dx": 12.3, "color": "#000"},
     "encoding": {"x": {"datum": 0.36826, "type": "quantitative", "scale": {"domain": [0, 0.5], "nice": false, "zero": false}},
      "y": {"field": "s", "type": "nominal", "scale": {"type": "point", "domain": ["C1=0.09 μF/km", "C2=0.19 μF/km", "C3=0.29 μF/km", "C4=0.39 μF/km", "C5=0.49 μF/km"], "range": [21.7, 111], "padding": 0}},
      "text": {"field": "rest"}}}
   ]},
  {"data": {"values": [{}]},
   "mark": {"type": "point", "opacity": 0, "size": 1},
   "encoding": {
    "x": {"datum": 0.028, "type": "quantitative", "scale": {"domain": [0.02737, 0.035199], "range": [22.3, 457.3], "nice": false, "zero": false},
      "axis": {"orient": "top", "offset": -228.3, "values": [0.028, 0.029, 0.03, 0.031, 0.032, 0.033, 0.034], "labels": false, "grid": false, "domain": false, "tickSize": -4, "title": null, "zindex": 2}},
    "y": {"datum": 4980, "type": "quantitative", "scale": {"domain": [4977.5, 5162.5], "range": [430, 228.3], "nice": false, "zero": false},
      "axis": {"orient": "right", "offset": -492.7, "values": [4980, 5000, 5020, 5040, 5060, 5080, 5100, 5120, 5140, 5160], "labels": false, "grid": false, "domain": false, "tickSize": -4, "title": null, "zindex": 2}}}},
  {"data": {"values": [{}]},
   "mark": {"type": "point", "opacity": 0, "size": 1},
   "encoding": {
    "x": {"datum": 0.5, "type": "quantitative", "scale": {"domain": [0.4, 0.5], "range": [850, 950], "nice": false, "zero": false}, "axis": null},
    "y": {"datum": 0, "type": "quantitative", "scale": {"domain": [-6000, 6000], "nice": false, "zero": false},
      "axis": {"orient": "right", "values": [-4000, -2000, 0, 2000, 4000], "labels": false, "grid": false, "domain": false, "tickSize": -10, "title": null, "zindex": 1}}}}
 ]
}
]
}
